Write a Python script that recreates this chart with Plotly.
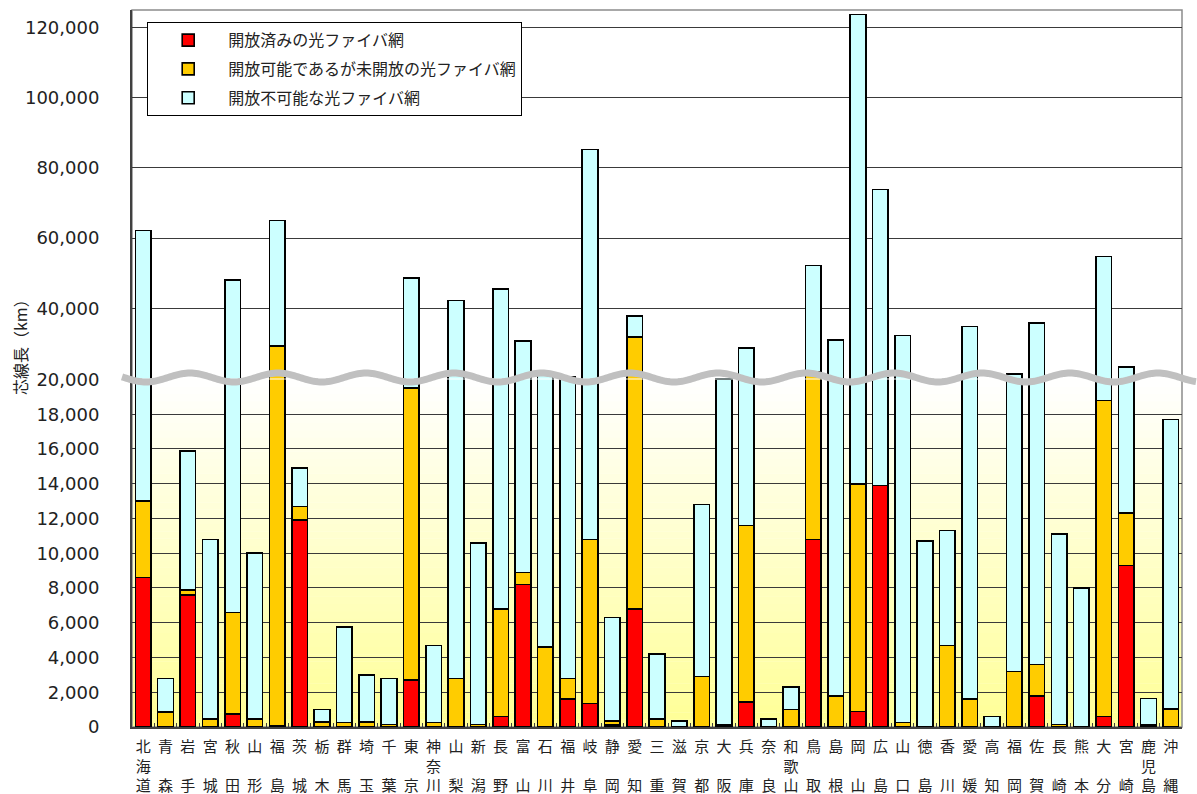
import numpy as np
import plotly.graph_objects as go

prefectures = ["北海道", "青森", "岩手", "宮城", "秋田", "山形", "福島", "茨城", "栃木", "群馬",
               "埼玉", "千葉", "東京", "神奈川", "山梨", "新潟", "長野", "富山", "石川", "福井",
               "岐阜", "静岡", "愛知", "三重", "滋賀", "京都", "大阪", "兵庫", "奈良", "和歌山",
               "鳥取", "島根", "岡山", "広島", "山口", "徳島", "香川", "愛媛", "高知", "福岡",
               "佐賀", "長崎", "熊本", "大分", "宮崎", "鹿児島", "沖縄"]

opened = [8600, 0, 7600, 0, 750, 0, 50, 11900, 0, 0,
          0, 0, 2700, 0, 0, 0, 600, 8200, 0, 1600,
          1350, 130, 6800, 0, 0, 0, 50, 1450, 0, 0,
          10800, 0, 900, 13900, 0, 0, 0, 0, 0, 0,
          1800, 0, 0, 600, 9300, 0, 0]

openable = [4400, 850, 300, 450, 5850, 450, 29150, 800, 300, 250,
            300, 150, 16800, 250, 2800, 150, 6200, 700, 4600, 1200,
            9450, 220, 25000, 450, 0, 2900, 100, 10150, 0, 1000,
            11100, 1800, 13100, 0, 250, 0, 4700, 1600, 0, 3200,
            1800, 150, 0, 18200, 3000, 130, 1050]

not_openable = [49200, 1950, 8000, 10350, 41400, 9550, 35800, 2200, 700, 5500,
                2700, 2650, 29200, 4450, 39400, 10450, 38700, 21700, 16400, 17700,
                74500, 5950, 6000, 3750, 350, 9900, 19850, 17100, 450, 1300,
                30300, 29100, 109700, 59900, 31950, 10700, 6600, 33200, 600, 18100,
                32200, 10950, 8000, 36000, 10900, 1520, 16650]

series_names = ["開放済みの光ファイバ網", "開放可能であるが未開放の光ファイバ網", "開放不可能な光ファイバ網"]
series_colors = ["#FF0000", "#FFCC00", "#CCFFFF"]
series_values = [opened, openable, not_openable]

lower_ticks = list(range(0, 20001, 2000))
upper_ticks = list(range(40000, 120001, 20000))


def vlabel(name):
    chars = list(name)
    if len(chars) == 2:
        chars = [chars[0], "\u3000", chars[1]]
    return "<br>".join(chars)


tick_text = [vlabel(p) for p in prefectures]

fig = go.Figure()
for yax in ["y", "y2"]:
    for nm, col, vals in zip(series_names, series_colors, series_values):
        fig.add_trace(go.Bar(
            x=prefectures, y=vals, name=nm, xaxis="x", yaxis=yax,
            marker=dict(color=col, line=dict(color="#000000", width=1.6)),
            showlegend=(yax == "y2"), legendgroup=nm,
            hovertemplate="%{x}: %{y:,}<extra>" + nm + "</extra>",
        ))

# plot geometry (pixels)
W, H = 1197, 794
L, R, T, B = 132, 1182, 10, 727
ph = B - T
lower_top = 0.4847
upper_bottom = 0.4861

shapes = []
# gradient background in the lower panel (white at top -> pale yellow at bottom)
nb = 48
for i in range(nb):
    f0 = i / nb
    f1 = (i + 1) / nb
    t = 1 - (f0 + f1) / 2
    b = int(round(255 - (255 - 150) * t))
    shapes.append(dict(type="rect", xref="paper", yref="paper",
                       x0=0, x1=1, y0=lower_top * f0, y1=lower_top * f1 + 0.0005,
                       fillcolor=f"rgb(255,255,{b})", line=dict(width=0), layer="below"))
# frame
shapes.append(dict(type="rect", xref="paper", yref="paper", x0=0, x1=1, y0=0, y1=1,
                   line=dict(color="#8C8C8C", width=1.5), layer="below"))

# wavy break line
xs = np.arange(122, 1198, 2.0)
ys = 377.5 - 4.5 * np.cos(2 * np.pi * (xs - 190) / 88.0)
px = (xs - L) / (R - L)
py = (B - ys) / ph
path = "M " + " L ".join(f"{a:.5f},{b:.5f}" for a, b in zip(px, py))
shapes.append(dict(type="path", xref="paper", yref="paper", path=path,
                   line=dict(color="#C0C0C0", width=7), layer="above"))

fig.update_layout(
    width=W, height=H,
    margin=dict(l=L, r=W - R, t=T, b=H - B, autoexpand=False),
    paper_bgcolor="white", plot_bgcolor="rgba(0,0,0,0)",
    barmode="stack", bargap=0.3,
    font=dict(family="Noto Sans CJK JP", color="#222222"),
    shapes=shapes,
    xaxis=dict(type="category", tickvals=prefectures, ticktext=tick_text,
               showline=True, linecolor="#404040", linewidth=2,
               ticks="inside", tickson="boundaries", ticklen=4, tickcolor="#404040",
               tickfont=dict(family="Noto Sans CJK JP", size=15, color="#222222"),
               tickangle=0, anchor="y", automargin=False, showgrid=False,
               ticklabelstandoff=5),
    yaxis=dict(domain=[0, lower_top], range=[0, 20000], tickvals=lower_ticks,
               tickformat=",", showgrid=True, gridcolor="#3A3A3A", gridwidth=1,
               showline=True, linecolor="#404040", linewidth=2, anchor="x",
               tickfont=dict(family="DejaVu Sans", size=18, color="#222222"),
               ticklabelstandoff=27, zeroline=False, automargin=False),
    yaxis2=dict(domain=[upper_bottom, 1], range=[20000, 125000], tickvals=upper_ticks,
                tickformat=",", showgrid=True, gridcolor="#3A3A3A", gridwidth=1,
                showline=True, linecolor="#404040", linewidth=2, anchor="x",
                tickfont=dict(family="DejaVu Sans", size=18, color="#222222"),
                ticklabelstandoff=27, zeroline=False, automargin=False),
    legend=dict(x=(147 - L) / (R - L), y=(B - 22) / ph, xanchor="left", yanchor="top",
                bgcolor="white", bordercolor="#000000", borderwidth=1.2,
                font=dict(family="Noto Sans CJK JP", size=16, color="#222222"),
                traceorder="grouped", itemwidth=70, tracegroupgap=5),
    annotations=[dict(text="芯線長（km）", xref="paper", yref="paper",
                      x=(20 - L) / (R - L), y=(B - 343) / ph, textangle=-90,
                      showarrow=False, font=dict(family="Noto Sans CJK JP", size=16, color="#222222"),
                      xanchor="center", yanchor="middle")],
)

fig.write_html("out.html", config={"displayModeBar": False},
               post_script="document.body.style.margin='0';document.body.style.overflow='hidden';")
